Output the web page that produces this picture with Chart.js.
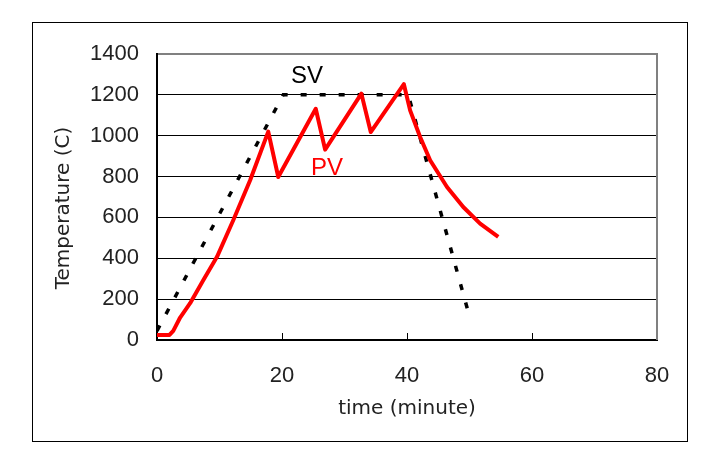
<!DOCTYPE html>
<html lang="en">
  <head>
    <meta charset="UTF-8" />
    <meta name="viewport" content="width=device-width, initial-scale=1.0" />
    <script src="https://cdn.jsdelivr.net/npm/chart.js"></script>
    <title>Temperature</title>
    <style>
      html, body {
        margin: 0;
        padding: 0;
        background: #fff;
      }
      #chart-wrapper {
        width: 716px;
        height: 454px;
        position: relative;
      }
    </style>
  </head>
  <body>
    <div id="chart-wrapper">
      <canvas id="chart"></canvas>
    </div>
    <script>
      // setup area
      const svTime = [0, 20.2, 40.2, 50];
      const svTemp = [45, 1200, 1200, 115];

      const pvTime = [0, 2, 2.6, 3.7, 5.3, 7.4, 9.6, 12.2, 14.9, 17.8, 19.4, 25.4, 26.9, 32.7, 34.2, 39.5, 40.5, 42.1, 43.7, 46.4, 49.0, 51.7, 54.6];
      const pvTemp = [25, 25, 45, 110, 180, 293, 407, 586, 782, 1020, 798, 1132, 932, 1206, 1018, 1252, 1124, 994, 880, 749, 651, 570, 505];

      const xTicks = [0, 20, 40, 60, 80];
      const yTicks = [0, 200, 400, 600, 800, 1000, 1200, 1400];

      const seriesLabels = [
        { text: 'SV', x: 24, y: 1290, color: '#000' },
        { text: 'PV', x: 27.2, y: 838, color: '#ff0000' },
      ];

      const toPoints = (xs, ys) => xs.map((x, i) => ({ x, y: ys[i] }));

      // draws the frame, inner x ticks, titles and SV / PV labels
      const decorations = {
        id: 'decorations',
        afterDraw(chart) {
          const { ctx, chartArea, scales } = chart;
          const { left, right, top, bottom } = chartArea;
          ctx.save();

          // outer frame
          ctx.strokeStyle = '#000';
          ctx.lineWidth = 1;
          ctx.strokeRect(32.5, 22.5, 655, 419);

          // grey top and right edge of plot area
          ctx.strokeStyle = '#808080';
          ctx.lineWidth = 2;
          ctx.beginPath();
          ctx.moveTo(left + 1, top);
          ctx.lineTo(right, top);
          ctx.lineTo(right, bottom);
          ctx.stroke();

          // inner tick marks on x axis
          ctx.strokeStyle = '#000';
          ctx.lineWidth = 1;
          xTicks.slice(1, -1).forEach((v) => {
            const px = Math.round(scales.x.getPixelForValue(v)) + 0.5;
            ctx.beginPath();
            ctx.moveTo(px, bottom);
            ctx.lineTo(px, bottom - 7);
            ctx.stroke();
          });

          // axis titles
          ctx.fillStyle = '#222';
          ctx.font = '20px "DejaVu Sans"';
          ctx.textAlign = 'center';
          ctx.textBaseline = 'middle';
          ctx.fillText('time (minute)', (left + right) / 2, 409);
          ctx.save();
          ctx.translate(64, 208);
          ctx.rotate(-Math.PI / 2);
          ctx.fillText('Temperature (C)', 0, 0);
          ctx.restore();

          // series labels
          ctx.font = '24px "Liberation Sans"';
          seriesLabels.forEach((l) => {
            ctx.fillStyle = l.color;
            ctx.fillText(l.text, scales.x.getPixelForValue(l.x), scales.y.getPixelForValue(l.y));
          });

          ctx.restore();
        },
      };

      // Render area
      const chart = new Chart(document.getElementById('chart'), {
        type: 'scatter',
        data: {
          datasets: [
            {
              label: 'PV',
              data: toPoints(pvTime, pvTemp),
              showLine: true,
              borderColor: '#ff0000',
              borderWidth: 4,
              pointRadius: 0,
              tension: 0,
              borderJoinStyle: 'round',
            },
            {
              label: 'SV',
              data: toPoints(svTime, svTemp),
              showLine: true,
              borderColor: '#000',
              borderWidth: 3.5,
              borderDash: [6, 13],
              pointRadius: 0,
              tension: 0,
            },
          ],
        },
        options: {
          responsive: true,
          maintainAspectRatio: false,
          animation: false,
          layout: {
            padding: {
              top: 54,
              right: 59,
              bottom: 0,
              left: 0,
            },
          },
          plugins: {
            legend: { display: false },
            tooltip: { enabled: false },
          },
          scales: {
            x: {
              type: 'linear',
              min: xTicks[0],
              max: xTicks[xTicks.length - 1],
              afterFit: (scale) => { scale.height = 114; },
              afterBuildTicks: (scale) => { scale.ticks = xTicks.map((v) => ({ value: v })); },
              border: { color: '#000', width: 2 },
              grid: {
                display: true,
                drawOnChartArea: false,
                drawTicks: false,
              },
              ticks: {
                padding: 23,
                color: '#222',
                font: { family: 'Liberation Sans', size: 22 },
                callback: (v) => String(v),
              },
            },
            y: {
              min: yTicks[0],
              max: yTicks[yTicks.length - 1],
              afterFit: (scale) => { scale.width = 157; },
              afterBuildTicks: (scale) => { scale.ticks = yTicks.map((v) => ({ value: v })); },
              border: { color: '#000', width: 2 },
              grid: {
                color: (ctx) => (ctx.tick && ctx.tick.value === 1400 ? 'rgba(0,0,0,0)' : '#000'),
                lineWidth: 1,
                drawTicks: false,
              },
              ticks: {
                padding: 18,
                color: '#222',
                font: { family: 'Liberation Sans', size: 22 },
                callback: (v) => String(v),
              },
            },
          },
        },
        plugins: [decorations],
      });
    </script>
  </body>
</html>
